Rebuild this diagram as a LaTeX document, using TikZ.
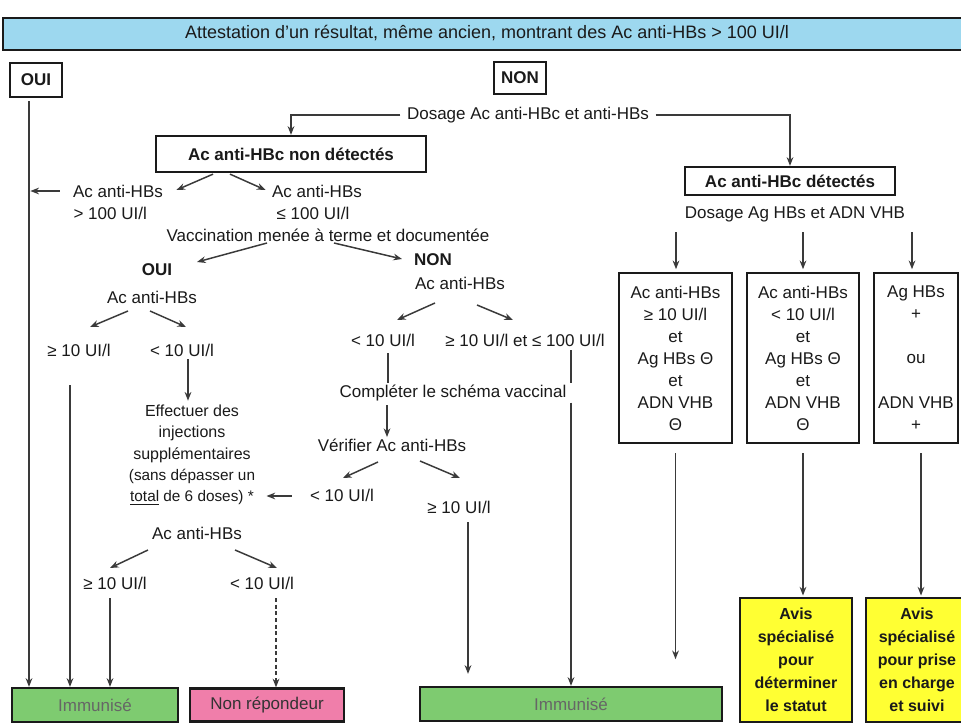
\documentclass[tikz,border=0pt]{standalone}
\usepackage{fontspec}
\setmainfont{Liberation Sans}
\usetikzlibrary{arrows.meta}
\definecolor{ink}{HTML}{1A1A1A}
\definecolor{lineg}{HTML}{3A3A3A}
\definecolor{bannerblue}{HTML}{9DD8EF}
\definecolor{immgreen}{HTML}{7ECB70}
\definecolor{pinkbox}{HTML}{F07EAA}
\definecolor{avisyellow}{HTML}{FFFF33}
\newcommand\mainfs{\fontsize{12.75}{16.5}\selectfont}
\newcommand\smallfs{\fontsize{11.5}{15.5}\selectfont}
\newcommand\midfs{\fontsize{12}{16}\selectfont}
\begin{document}
\begin{tikzpicture}[x=0.75pt,y=-0.75pt,
  txt/.style={font=\mainfs, text=ink, inner sep=1pt, align=center},
  boldtxt/.style={txt, font=\mainfs\bfseries},
  bx/.style={draw=ink, line width=1.7pt, align=center, inner sep=0pt, text=ink, font=\mainfs},
  arr/.style={draw=lineg, line width=1.1pt, -{Stealth[length=6.5pt,width=5pt]}},
  ln/.style={draw=lineg, line width=1.1pt},
]
\useasboundingbox (0,0) rectangle (961,724);
\clip (0,0) rectangle (961,724);
\fill[white] (0,0) rectangle (961,724);

% ---- top
\node[bx, fill=bannerblue, line width=2pt, minimum width=722.25pt, minimum height=24pt] (banner) at (484.5,34) {};
\node[txt, font=\fontsize{13.5}{16.5}\selectfont] (bannertxt) at (487,33) {Attestation d’un résultat, même ancien, montrant des Ac anti-HBs > 100 UI/l};
\node[bx, font=\mainfs\bfseries, minimum width=39pt, minimum height=25.5pt] (oui) at (36,80) {OUI};
\node[bx, font=\mainfs\bfseries, minimum width=39pt, minimum height=24pt] (non) at (520,78) {NON};
\node[txt] (dos1) at (528,115) {Dosage Ac anti-HBc et anti-HBs};

% ---- left branch
\node[bx, font=\mainfs\bfseries, minimum width=202.5pt, minimum height=27pt] (nondet) at (291,154) {Ac anti-HBc non détectés};
\node[txt] (acl1a) at (118,191) {Ac anti-HBs};
\node[txt, anchor=west] (acl1b) at (72,213) {> 100 UI/l};
\node[txt] (acr1a) at (317,191) {Ac anti-HBs};
\node[txt] (acr1b) at (313,213) {≤ 100 UI/l};
\node[txt] (vacc) at (328,235) {Vaccination menée à terme et documentée};
\node[boldtxt] (oui2) at (157,270) {OUI};
\node[txt] (ac2) at (152,297) {Ac anti-HBs};
\node[boldtxt] (non2) at (433,260) {NON};
\node[txt] (ac3) at (460,283) {Ac anti-HBs};
\node[txt] (ge10a) at (79,350) {≥ 10 UI/l};
\node[txt] (lt10a) at (182,350) {< 10 UI/l};
\node[txt] (lt10b) at (383,340) {< 10 UI/l};
\node[txt] (ge10b) at (525,340) {≥ 10 UI/l et ≤ 100 UI/l};
\node[txt] (compl) at (453,393) {Compléter le schéma vaccinal};
\node[txt] (verif) at (392,445) {Vérifier Ac anti-HBs};
\node[txt, font=\midfs] (effect) at (192,455) {Effectuer des\\injections\\supplémentaires\\\smallfs (sans dépasser un\\\smallfs\underline{total} de 6 doses) *};
\node[txt] (lt10c) at (342,495) {< 10 UI/l};
\node[txt] (ge10c) at (459,507) {≥ 10 UI/l};
\node[txt] (ac4) at (197,533) {Ac anti-HBs};
\node[txt] (ge10d) at (115,583) {≥ 10 UI/l};
\node[txt] (lt10d) at (262,583) {< 10 UI/l};

% ---- right branch
\node[bx, font=\mainfs\bfseries, minimum width=157.5pt, minimum height=21pt] (det) at (790,181) {Ac anti-HBc détectés};
\node[txt] (dos2) at (795,214) {Dosage Ag HBs et ADN VHB};
\node[bx, minimum width=84.75pt, minimum height=127.5pt] (box1) at (675.5,358) {Ac anti-HBs\\≥ 10 UI/l\\et\\Ag HBs Θ\\et\\ADN VHB\\Θ};
\node[bx, minimum width=84pt, minimum height=127.5pt] (box2) at (803,358) {Ac anti-HBs\\< 10 UI/l\\et\\Ag HBs Θ\\et\\ADN VHB\\Θ};
\node[bx, minimum width=63pt, minimum height=127.5pt] (box3) at (916,358) {Ag HBs\\+\\[17pt]ou\\[17pt]ADN VHB\\+};

% ---- bottom
\node[bx, fill=immgreen, text=black!60, minimum width=124.5pt, minimum height=25.5pt] (imm1) at (95,705) {Immunisé};
\node[bx, fill=pinkbox, text=black!80, minimum width=115.5pt, minimum height=24.75pt] (nonrep) at (267,705) {Non répondeur};
\node[bx, fill=immgreen, text=black!60, minimum width=226.5pt, minimum height=25.5pt] (imm2) at (571,704) {Immunisé};
\node[bx, fill=avisyellow, font=\fontsize{12}{17.25}\selectfont\bfseries, minimum width=84pt, minimum height=93pt] (avis1) at (796,660) {Avis\\spécialisé\\pour\\déterminer\\le statut};
\node[bx, fill=avisyellow, font=\fontsize{12}{17.25}\selectfont\bfseries, minimum width=76.5pt, minimum height=93pt] (avis2) at (917,660) {Avis\\spécialisé\\pour prise\\en charge\\et suivi};

% ---- connectors
\coordinate (xo) at ([shift={(-7,3)}]oui.south);
\draw[arr] (xo) -- (xo |- imm1.north);
\draw[arr, shorten >=1pt] ([shift={(-12,0)}]acl1a.west) -- (xo |- acl1a.west);
\draw[arr] ([shift={(-5,0)}]dos1.west) -| (nondet.north);
\draw[arr] ([shift={(5,0)}]dos1.east) -| (det.north);
\draw[arr] ([shift={(-78,1)}]nondet.south) -- ([shift={(12,-1)}]acl1a.east);
\draw[arr] ([shift={(-61,1)}]nondet.south) -- ([shift={(-5,-1)}]acr1a.west);
\draw[arr] ([shift={(-61,8)}]vacc.center) -- ([shift={(40,-8)}]oui2.center);
\draw[arr] ([shift={(6,8)}]vacc.center) -- ([shift={(-31,-1)}]non2.center);
\draw[arr] ([shift={(-24,14)}]ac2.center) -- ([shift={(11,-23)}]ge10a.center);
\draw[arr] ([shift={(-2,14)}]ac2.center) -- ([shift={(4,-23)}]lt10a.center);
\coordinate (la) at ([shift={(6,9)}]lt10a.center);
\draw[arr, shorten >=2pt] (la) -- (la |- effect.north);
\coordinate (ga) at ([shift={(-9,35)}]ge10a.center);
\draw[arr] (ga) -- (ga |- imm1.north);
\draw[arr] ([shift={(-25,20)}]ac3.center) -- ([shift={(14,-20)}]lt10b.center);
\draw[arr] ([shift={(17,22)}]ac3.center) -- ([shift={(-12,-20)}]ge10b.center);
\coordinate (lb) at ([shift={(5,13)}]lt10b.center);
\draw[ln, line width=1.8pt] (lb) -- (lb |- compl.north);
\coordinate (cb) at ([shift={(-66,12)}]compl.center);
\draw[arr] (cb) -- (cb |- verif.north);
\coordinate (gb) at ([shift={(46,10)}]ge10b.center);
\draw[ln, line width=1.8pt] (gb) -- (gb |- compl.north);
\draw[arr] (gb |- compl.south) -- (gb |- imm2.north);
\draw[arr] ([shift={(-14,17)}]verif.center) -- ([shift={(1,-17)}]lt10c.center);
\draw[arr] ([shift={(28,16)}]verif.center) -- ([shift={(1,-29)}]ge10c.center);
\draw[arr] ([shift={(-17,1)}]lt10c.west) -- ([shift={(-42,1)}]lt10c.west);
\coordinate (gc) at ([shift={(9,15)}]ge10c.center);
\draw[arr, shorten >=9pt] (gc) -- (gc |- imm2.north);
\draw[arr] ([shift={(-49,17)}]ac4.center) -- ([shift={(-5,-15)}]ge10d.center);
\draw[arr] ([shift={(38,17)}]ac4.center) -- ([shift={(15,-15)}]lt10d.center);
\coordinate (gd) at ([shift={(-5,15)}]ge10d.center);
\draw[arr] (gd) -- (gd |- imm1.north);
\coordinate (ld) at ([shift={(14,15)}]lt10d.center);
\draw[arr, densely dashed] (ld) -- (ld |- nonrep.north);
\coordinate (d1) at ([shift={(-119,18)}]dos2.center);
\coordinate (d2) at ([shift={(8,18)}]dos2.center);
\coordinate (d3) at ([shift={(117,18)}]dos2.center);
\draw[arr, shorten >=2pt] (d1) -- (d1 |- box1.north);
\draw[arr, shorten >=2pt] (d2) -- (d2 |- box2.north);
\draw[arr, shorten >=2pt] (d3) -- (d3 |- box3.north);
\coordinate (b1) at ([shift={(0,9)}]box1.south);
\draw[arr, shorten >=20pt] (b1) -- (b1 |- imm2.north);
\coordinate (b2) at ([shift={(0,9)}]box2.south);
\draw[arr, shorten >=1pt] (b2) -- (b2 |- avis1.north);
\coordinate (b3) at ([shift={(5,9)}]box3.south);
\draw[arr, shorten >=1pt] (b3) -- (b3 |- avis2.north);
\end{tikzpicture}
\end{document}
